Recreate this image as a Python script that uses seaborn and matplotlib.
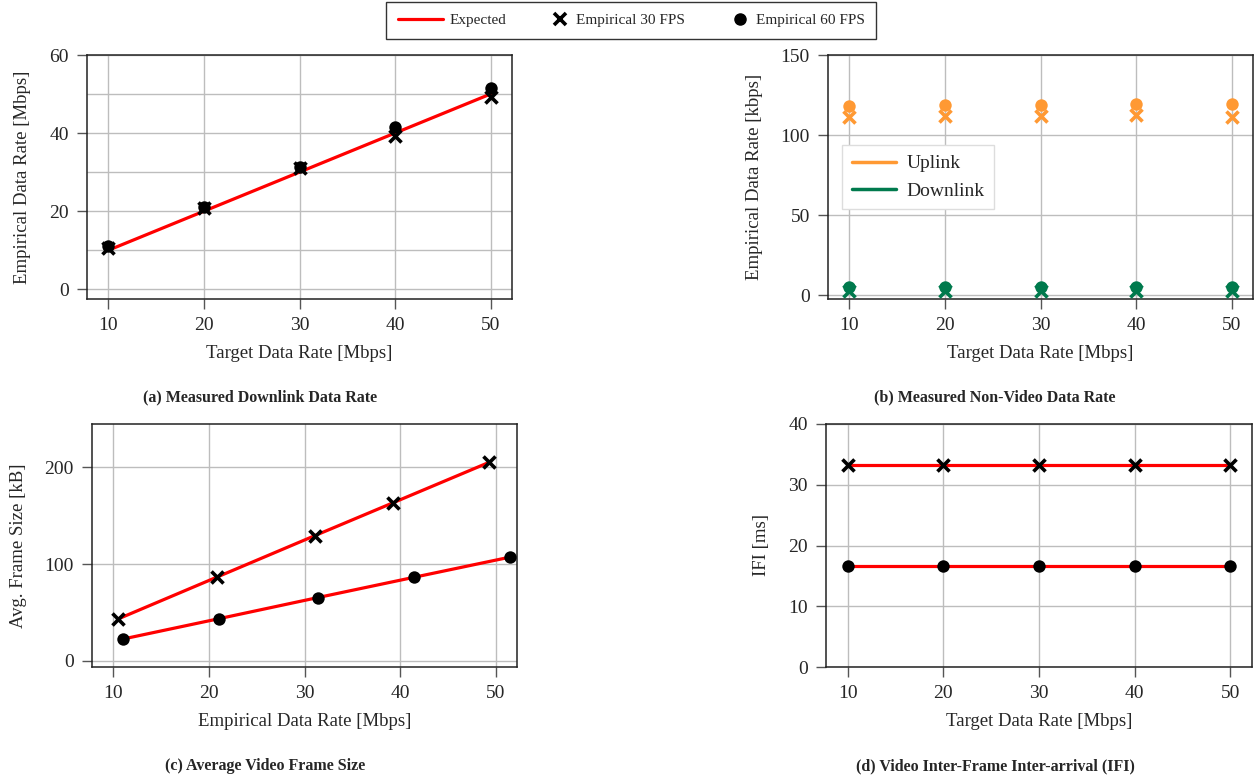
import numpy as np
import matplotlib
matplotlib.use("Agg")
import matplotlib.pyplot as plt
from matplotlib.lines import Line2D
from matplotlib.legend_handler import HandlerLine2D
from matplotlib.ticker import MultipleLocator
import seaborn as sns

sns.set_theme(style="whitegrid")
plt.rcParams['font.family'] = ['Liberation Serif', 'DejaVu Serif']
plt.rcParams.update({'font.size': 12})

# dados
target_rate = [10, 20, 30, 40, 50]
rate_30fps = [10.5, 20.8, 31.1, 39.3, 49.3]
rate_60fps = [11.0, 21.0, 31.4, 41.5, 51.5]

uplink_30fps = [111.5, 112.0, 112.0, 112.3, 111.5]
uplink_60fps = [118.3, 118.5, 119.0, 119.6, 119.6]
downlink_30fps = [2.7, 2.7, 2.7, 2.7, 2.7]
downlink_60fps = [5.3, 5.0, 5.0, 5.0, 5.0]

frame_30fps = [43.5, 86.5, 129.5, 163.5, 205.0]
frame_60fps = [22.7, 43.6, 65.5, 86.5, 107.2]

ifi_30fps = [33.3, 33.3, 33.3, 33.3, 33.3]
ifi_60fps = [16.7, 16.7, 16.7, 16.7, 16.7]

RED = '#ff0000'
ORANGE = '#ff9933'
GREEN = '#007a4d'
GRID = '#bdbdbd'
TICK_FS = 14
LABEL_FS = 13.5

fig = plt.figure(figsize=(12.58, 7.8), dpi=100)
W, H = 1258, 780


def make_ax(x0, y0, x1, y1):
    ax = fig.add_axes([x0 / W, 1 - y1 / H, (x1 - x0) / W, (y1 - y0) / H])
    ax.set_facecolor('white')
    for s in ax.spines.values():
        s.set_color('#222222')
        s.set_linewidth(1.1)
    ax.grid(True, which='major', color=GRID, linewidth=1.0)
    ax.tick_params(axis='both', which='major', direction='out', length=7.5,
                   width=1.0, color='#555555', labelsize=TICK_FS, pad=5.5,
                   left=True, bottom=True)
    ax.set_xlim(7.75, 52.25)
    ax.set_xticks(target_rate)
    ax.set_axisbelow(True)
    return ax


def labels(ax, xl, yl):
    ax.set_xlabel(xl, fontsize=LABEL_FS, labelpad=8)
    ax.set_ylabel(yl, fontsize=LABEL_FS, labelpad=13)


def marks(ax, x, y, kind, color='black'):
    if kind == 'x':
        sns.scatterplot(x=x, y=y, ax=ax, marker='x', s=75, color=color,
                        linewidth=2.6, zorder=4)
    else:
        sns.scatterplot(x=x, y=y, ax=ax, marker='o', s=80, color=color,
                        edgecolor=color, linewidth=0, zorder=4)


class RightMarker(HandlerLine2D):
    # marcador encostado no texto, como no original
    def get_xdata(self, legend, xdescent, ydescent, width, height, fontsize):
        x1 = -xdescent + width
        xdata = [x1 - 1.3 * fontsize, x1]
        return xdata, [x1 - 0.65 * fontsize]


# (a) taxa de downlink medida
ax1 = make_ax(87, 55, 512, 299)
sns.lineplot(x=target_rate, y=target_rate, ax=ax1, color=RED, linewidth=2.3, zorder=3)
marks(ax1, target_rate, rate_60fps, 'o')
marks(ax1, target_rate, rate_30fps, 'x')
ax1.set_ylim(-2.5, 60)
ax1.set_yticks([0, 20, 40, 60])
ax1.yaxis.set_minor_locator(MultipleLocator(10))
ax1.grid(True, which='minor', axis='y', color=GRID, linewidth=1.0)
ax1.tick_params(axis='y', which='minor', length=0)
labels(ax1, 'Target Data Rate [Mbps]', 'Empirical Data Rate [Mbps]')

# (b) taxa não-vídeo
ax2 = make_ax(828, 55, 1253, 299)
marks(ax2, target_rate, uplink_60fps, 'o', ORANGE)
marks(ax2, target_rate, uplink_30fps, 'x', ORANGE)
marks(ax2, target_rate, downlink_60fps, 'o', GREEN)
marks(ax2, target_rate, downlink_30fps, 'x', GREEN)
ax2.set_ylim(-2.3, 150)
ax2.set_yticks([0, 50, 100, 150])
labels(ax2, 'Target Data Rate [Mbps]', 'Empirical Data Rate [kbps]')
h_ul = Line2D([], [], color=ORANGE, linewidth=2.5, label='Uplink')
h_dl = Line2D([], [], color=GREEN, linewidth=2.5, label='Downlink')
leg2 = ax2.legend(handles=[h_ul, h_dl], loc='upper left', bbox_to_anchor=(0.033, 0.631),
                  fontsize=14, frameon=True, fancybox=False, framealpha=1,
                  edgecolor='#dddddd', handlelength=2.3, handletextpad=0.5,
                  borderpad=0.5, labelspacing=0.5, borderaxespad=0)
leg2.get_frame().set_linewidth(1.0)

# (c) tamanho médio do quadro
ax3 = make_ax(92, 424, 517, 667)
sns.lineplot(x=rate_30fps, y=frame_30fps, ax=ax3, color=RED, linewidth=2.3, zorder=3)
sns.lineplot(x=rate_60fps, y=frame_60fps, ax=ax3, color=RED, linewidth=2.3, zorder=3)
marks(ax3, rate_30fps, frame_30fps, 'x')
marks(ax3, rate_60fps, frame_60fps, 'o')
ax3.set_ylim(-6.2, 244.7)
ax3.set_yticks([0, 100, 200])
labels(ax3, 'Empirical Data Rate [Mbps]', 'Avg. Frame Size [kB]')

# (d) IFI
ax4 = make_ax(826, 424, 1252, 667)
sns.lineplot(x=target_rate, y=ifi_30fps, ax=ax4, color=RED, linewidth=2.3, zorder=3)
sns.lineplot(x=target_rate, y=ifi_60fps, ax=ax4, color=RED, linewidth=2.3, zorder=3)
marks(ax4, target_rate, ifi_30fps, 'x')
marks(ax4, target_rate, ifi_60fps, 'o')
ax4.set_ylim(0, 40)
ax4.set_yticks([0, 10, 20, 30, 40])
labels(ax4, 'Target Data Rate [Mbps]', 'IFI [ms]')

# legendas das figuras
cap = dict(fontsize=11.5, fontweight='bold', ha='center', va='center')
fig.text(260 / W, 1 - 397 / H, '(a) Measured Downlink Data Rate', **cap)
fig.text(995 / W, 1 - 397 / H, '(b) Measured Non-Video Data Rate', **cap)
fig.text(265 / W, 1 - 766 / H, '(c) Average Video Frame Size', **cap)
fig.text(995 / W, 1 - 766 / H, '(d) Video Inter-Frame Inter-arrival (IFI)', **cap)

# legenda geral no topo
h_exp = Line2D([], [], color=RED, linewidth=2.3, label='Expected')
h_30 = Line2D([], [], color='black', marker='x', linestyle='None', markersize=8,
              markeredgewidth=2.6, label='Empirical 30 FPS')
h_60 = Line2D([], [], color='black', marker='o', linestyle='None', markersize=8,
              label='Empirical 60 FPS')
leg = fig.legend(handles=[h_exp, h_30, h_60], loc='upper center',
                 bbox_to_anchor=(631 / W, 1 - 2 / H), ncol=3, fontsize=11,
                 frameon=True, fancybox=False, framealpha=1, edgecolor='#333333',
                 handlelength=3.0, columnspacing=1.2, handletextpad=0.4,
                 borderpad=0.75, borderaxespad=0,
                 handler_map={h_30: RightMarker(), h_60: RightMarker()})
leg.get_frame().set_linewidth(1.0)

plt.savefig('out.png', dpi=100)
